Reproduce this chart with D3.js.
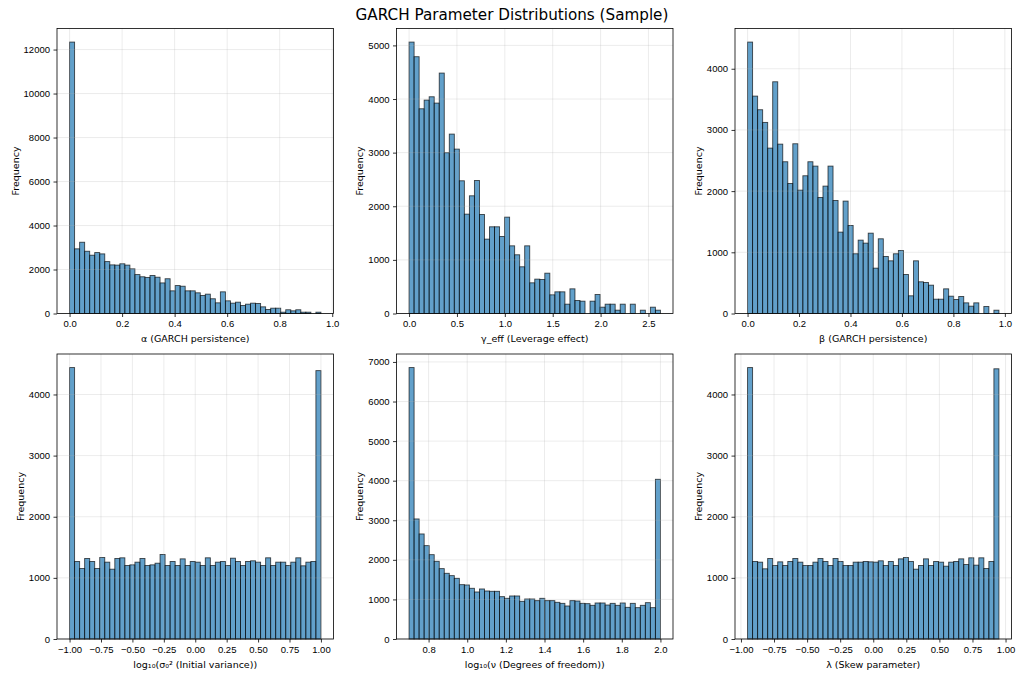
<!DOCTYPE html>
<html>
<head>
<meta charset="utf-8">
<script src="https://cdn.jsdelivr.net/npm/d3@7"></script>
<style>
	body { margin: 0; background: #fff; }
	svg { font-family: "DejaVu Sans", sans-serif; }
	.tick text { font-size: 9.5px; fill: #000; }
	.tick line { stroke: #000; stroke-width: 0.8; }
</style>
</head>
<body>
<div id="chart"></div>
<script>

// histogram counts, 50 bins each
var alphaCounts = [12340, 2940, 3240, 2830, 2650, 2770, 2710, 2360, 2210, 2200,
	2260, 2200, 2030, 1770, 1670, 1640, 1730, 1650, 1390, 1580,
	1030, 1270, 1240, 1030, 1030, 940, 820, 880, 670, 485,
	985, 576, 470, 515, 364, 424, 470, 455, 303, 182,
	242, 242, 60, 170, 121, 170, 60, 60, 0, 60];
var gammaCounts = [5062, 4789, 3818, 3980, 4042, 3924, 4484, 2998, 3346, 3066,
	2475, 1853, 2195, 2481, 1847, 1387, 1617, 1617, 1437, 1797,
	1262, 1095, 871, 1262, 572, 641, 634, 752, 348, 404,
	404, 174, 460, 243, 230, 0, 230, 354, 118, 174,
	174, 62, 174, 0, 174, 0, 62, 0, 118, 62];
var betaCounts = [4436, 3553, 3330, 3123, 2703, 3787, 2768, 2480, 2125, 2774,
	2016, 2251, 2480, 2409, 1896, 2082, 2409, 1847, 1330, 1837,
	1439, 976, 1199, 1150, 1313, 741, 1221, 932, 861, 976,
	1030, 638, 289, 861, 518, 507, 463, 234, 234, 403,
	283, 229, 278, 174, 120, 174, 0, 114, 0, 54];
var sigmaCounts = [4440, 1268, 1153, 1317, 1268, 1153, 1333, 1257, 1142, 1317,
	1328, 1202, 1213, 1257, 1317, 1202, 1213, 1240, 1383, 1202,
	1268, 1202, 1311, 1202, 1268, 1257, 1202, 1328, 1202, 1257,
	1268, 1202, 1322, 1268, 1202, 1268, 1279, 1257, 1202, 1328,
	1202, 1257, 1257, 1202, 1257, 1328, 1197, 1257, 1268, 4390];
var nuCounts = [6858, 3033, 2654, 2359, 2131, 1963, 1778, 1660, 1601, 1533,
	1373, 1365, 1281, 1188, 1264, 1213, 1205, 1205, 1070, 1028,
	1087, 1087, 952, 1011, 1011, 969, 1028, 969, 969, 927,
	901, 834, 969, 960, 901, 893, 851, 910, 910, 859,
	901, 851, 910, 800, 901, 792, 851, 918, 792, 4035];
var lambdaCounts = [4440, 1268, 1257, 1148, 1317, 1202, 1262, 1202, 1268, 1317,
	1257, 1202, 1202, 1257, 1317, 1268, 1202, 1317, 1268, 1202,
	1202, 1257, 1257, 1268, 1262, 1257, 1279, 1202, 1268, 1202,
	1311, 1333, 1268, 1142, 1202, 1311, 1202, 1268, 1257, 1191,
	1257, 1268, 1311, 1218, 1328, 1208, 1328, 1153, 1268, 4420];

// data ranges (first to last bin edge)
var alphaRange = [0, 0.957];
var gammaRange = [0, 2.625];
var betaRange = [0, 0.977];
var sigmaRange = [-1, 1];
var nuRange = [0.699, 2.0];
var lambdaRange = [-0.95, 0.95];

// tick labels
var alphaTicks = [0, 0.2, 0.4, 0.6, 0.8, 1.0];
var gammaTicks = [0, 0.5, 1.0, 1.5, 2.0, 2.5];
var betaTicks = [0, 0.2, 0.4, 0.6, 0.8, 1.0];
var sigmaTicks = [-1, -0.75, -0.5, -0.25, 0, 0.25, 0.5, 0.75, 1];
var nuTicks = [0.8, 1.0, 1.2, 1.4, 1.6, 1.8, 2.0];
var lambdaTicks = [-1, -0.75, -0.5, -0.25, 0, 0.25, 0.5, 0.75, 1];

var alphaYTicks = [0, 2000, 4000, 6000, 8000, 10000, 12000];
var gammaYTicks = [0, 1000, 2000, 3000, 4000, 5000];
var betaYTicks = [0, 1000, 2000, 3000, 4000];
var sigmaYTicks = [0, 1000, 2000, 3000, 4000];
var nuYTicks = [0, 1000, 2000, 3000, 4000, 5000, 6000, 7000];
var lambdaYTicks = [0, 1000, 2000, 3000, 4000];

var titles = ['α (GARCH persistence)', 'γ_eff (Leverage effect)', 'β (GARCH persistence)',
	'log₁₀(σ₀² (Initial variance))', 'log₁₀(ν (Degrees of freedom))', 'λ (Skew parameter)'];

var panels = [
	{counts: alphaCounts, range: alphaRange, xticks: alphaTicks, yticks: alphaYTicks, fmt: '.1f'},
	{counts: gammaCounts, range: gammaRange, xticks: gammaTicks, yticks: gammaYTicks, fmt: '.1f'},
	{counts: betaCounts, range: betaRange, xticks: betaTicks, yticks: betaYTicks, fmt: '.1f'},
	{counts: sigmaCounts, range: sigmaRange, xticks: sigmaTicks, yticks: sigmaYTicks, fmt: '.2f'},
	{counts: nuCounts, range: nuRange, xticks: nuTicks, yticks: nuYTicks, fmt: '.1f'},
	{counts: lambdaCounts, range: lambdaRange, xticks: lambdaTicks, yticks: lambdaYTicks, fmt: '.2f'}
];

var W = 1024, H = 676;
var colLeft = [57, 396.5, 735];
var rowTop = [28.5, 354];
var pw = 276.5, ph = 285;

var svg = d3.select('#chart').append('svg').attr('width', W).attr('height', H);

svg.append('text')
	.attr('x', W / 2).attr('y', 19.5)
	.attr('text-anchor', 'middle')
	.style('font-size', '15.2px')
	.text('GARCH Parameter Distributions (Sample)');

panels.forEach(function(p, k) {
	var g = svg.append('g')
		.attr('transform', 'translate(' + colLeft[k % 3] + ',' + rowTop[Math.floor(k / 3)] + ')');

	var lo = p.range[0], hi = p.range[1], R = hi - lo, n = p.counts.length;
	var bw = R / n;
	var bins = p.counts.map(function(c, i) { return {x0: lo + i * bw, x1: lo + (i + 1) * bw, c: c}; });

	var x = d3.scaleLinear().domain([lo - 0.05 * R, hi + 0.05 * R]).range([0, pw]);
	var y = d3.scaleLinear().domain([0, d3.max(p.counts) * 1.05]).range([ph, 0]);

	// bars
	g.selectAll('rect.bar')
		.data(bins.filter(function(d) { return d.c > 0; }))
		.enter().append('rect')
		.attr('class', 'bar')
		.attr('x', function(d) { return x(d.x0); })
		.attr('width', function(d) { return x(d.x1) - x(d.x0); })
		.attr('y', function(d) { return y(d.c); })
		.attr('height', function(d) { return y(0) - y(d.c); })
		.attr('fill', '#1f77b4').attr('fill-opacity', 0.7)
		.attr('stroke', '#000').attr('stroke-opacity', 0.7).attr('stroke-width', 0.9);

	// grid (above the bars, like matplotlib)
	g.selectAll('line.vgrid').data(p.xticks).enter().append('line')
		.attr('x1', function(d) { return x(d); }).attr('x2', function(d) { return x(d); })
		.attr('y1', 0).attr('y2', ph)
		.attr('stroke', '#b0b0b0').attr('stroke-opacity', 0.3).attr('stroke-width', 0.8);
	g.selectAll('line.hgrid').data(p.yticks).enter().append('line')
		.attr('x1', 0).attr('x2', pw)
		.attr('y1', function(d) { return y(d); }).attr('y2', function(d) { return y(d); })
		.attr('stroke', '#b0b0b0').attr('stroke-opacity', 0.3).attr('stroke-width', 0.8);

	// axes
	var xAxis = d3.axisBottom(x).tickValues(p.xticks).tickFormat(d3.format(p.fmt))
		.tickSize(3.5).tickPadding(3.5);
	var yAxis = d3.axisLeft(y).tickValues(p.yticks).tickFormat(d3.format('d'))
		.tickSize(3.5).tickPadding(3.5);

	g.append('g').attr('transform', 'translate(0,' + ph + ')').call(xAxis)
		.call(function(a) { a.select('.domain').remove(); });
	var ya = g.append('g').call(yAxis);
	ya.select('.domain').remove();

	// spines
	g.append('rect').attr('width', pw).attr('height', ph)
		.attr('fill', 'none').attr('stroke', '#000').attr('stroke-width', 0.8);

	g.append('text')
		.attr('x', pw / 2).attr('y', ph + 28.5)
		.attr('text-anchor', 'middle')
		.style('font-size', '9.5px')
		.text(titles[k]);

	var left = ya.node().getBBox().x;
	g.append('text')
		.attr('transform', 'translate(' + (left - 5) + ',' + (ph / 2) + ') rotate(-90)')
		.attr('text-anchor', 'middle')
		.style('font-size', '9.5px')
		.text('Frequency');
});

</script>
</body>
</html>
